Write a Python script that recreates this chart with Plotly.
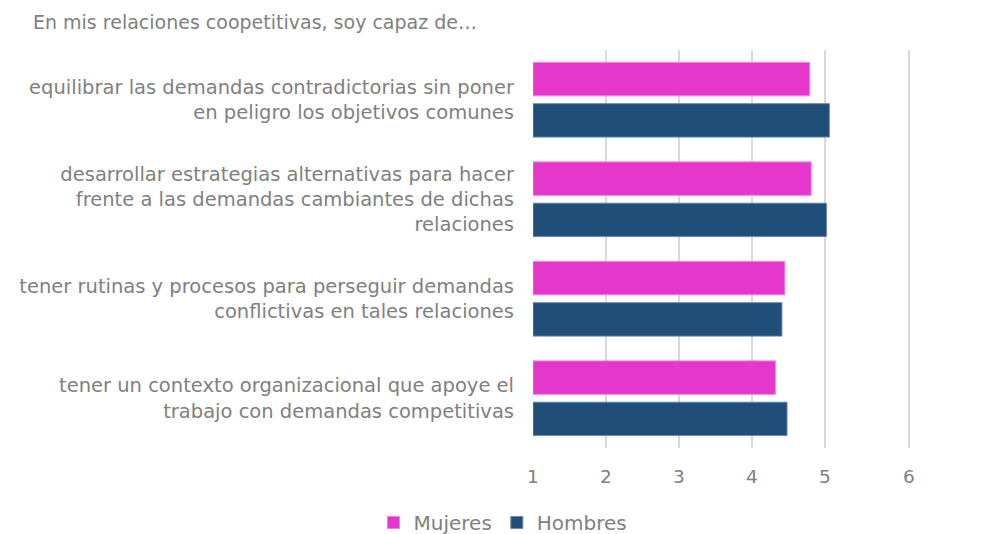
import plotly.graph_objects as go

categories = [
    "equilibrar las demandas contradictorias sin poner<br>en peligro los objetivos comunes",
    "desarrollar estrategias alternativas para hacer<br>frente a las demandas cambiantes de dichas<br>relaciones",
    "tener rutinas y procesos para perseguir demandas<br>conflictivas en tales relaciones",
    "tener un contexto organizacional que apoye el<br>trabajo con demandas competitivas",
]
mujeres = [4.79, 4.81, 4.45, 4.32]
hombres = [5.06, 5.02, 4.41, 4.48]
tick_labels = ["1", "2", "3", "4", "5", "6", "7"]
tick_values = [1, 2, 3, 4, 5, 6.15, 7.22]

FONT = "DejaVu Sans"
GREY = "#808080"

fig = go.Figure()
fig.add_trace(go.Bar(name="Mujeres", y=categories, x=[m - 1 for m in mujeres], base=1,
                     orientation="h", marker=dict(color="#E637CC", line=dict(color="#F07FE0", width=1))))
fig.add_trace(go.Bar(name="Hombres", y=categories, x=[h - 1 for h in hombres], base=1,
                     orientation="h", marker=dict(color="#1F4E79", line=dict(color="#6A8BAA", width=1))))

fig.update_layout(
    width=990, height=534,
    margin=dict(l=525, r=0, t=42, b=94),
    paper_bgcolor="white", plot_bgcolor="white",
    barmode="group", bargap=0.17, bargroupgap=0.19,
    font=dict(family=FONT, color=GREY, size=18),
    title=dict(text="En mis relaciones coopetitivas, soy capaz de…", x=25/990, xanchor="left",
               xref="container", yref="container", y=1 - 14/534, yanchor="middle",
               font=dict(family=FONT, size=19, color=GREY)),
    legend=dict(orientation="h", xref="container", yref="container", x=0.5, xanchor="center",
                y=0, yanchor="bottom", font=dict(size=20, color=GREY), traceorder="normal"),
    showlegend=True,
)
fig.update_xaxes(range=[1, 1 + 465/73], tickvals=tick_values, ticktext=tick_labels,
                 showgrid=True, gridcolor="#d9d9d9", gridwidth=1.5, zeroline=False,
                 showline=False, ticks="", ticklabelstandoff=15, ticklabeloverflow="allow",
                 tickfont=dict(size=18.5, color=GREY))
fig.update_yaxes(autorange="reversed", showgrid=False, showline=False, ticks="",
                 ticklabelstandoff=18, tickfont=dict(size=19.5, color=GREY))

fig.write_html("out.html")
